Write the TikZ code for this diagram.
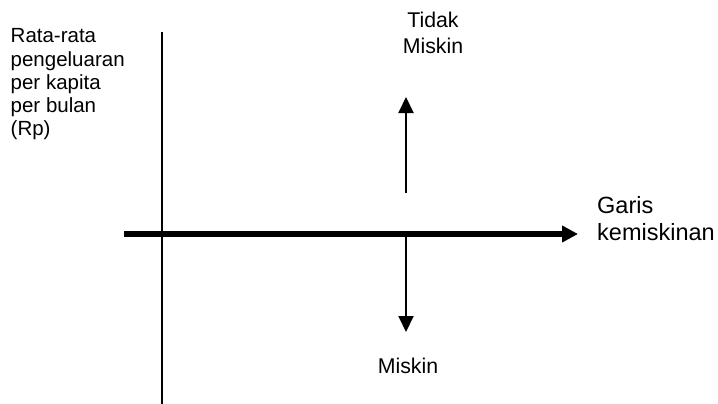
\documentclass[tikz,border=0pt]{standalone}
\usepackage{fontspec}
\setmainfont{Liberation Sans}
\usetikzlibrary{arrows.meta}
\tikzset{
  lbl/.style={inner sep=0pt, align=left},
  axisline/.style={line width=2pt},
  thickarrow/.style={line width=6pt, -{Triangle[length=16pt,width=16pt]}},
  thinarrow/.style={line width=2pt, -{Triangle[length=16pt,width=15pt]}},
}
\begin{document}
\begin{tikzpicture}[x=1pt,y=-1pt]
\useasboundingbox (0,0) rectangle (718,404);
% vertical axis
\coordinate (vtop) at (162,32);
\coordinate (vbot) at (162,404);
\draw[axisline] (vtop) -- (vbot);
% poverty line
\coordinate (hstart) at (124,234);
\coordinate (hend) at (578,234);
\draw[thickarrow] (hstart) -- (hend);
% up / down arrows
\coordinate (upstart) at (406,193);
\coordinate (upend) at (406,97);
\draw[thinarrow] (upstart) -- (upend);
\coordinate (downstart) at (406,236);
\coordinate (downend) at (406,332);
\draw[thinarrow] (downstart) -- (downend);
% labels
\node[lbl, anchor=north west, font=\fontsize{20.5}{23.1}\selectfont] (ylab) at (10.5,28.6)
  {Rata-rata\\pengeluaran\\per kapita\\per bulan\\(Rp)};
\node[lbl, align=center, anchor=north, font=\fontsize{21.3}{25.4}\selectfont] (tidak) at (433,12)
  {Tidak\\Miskin};
\node[lbl, anchor=north west, font=\fontsize{23.5}{27.7}\selectfont] (garis) at (597,196)
  {Garis\\kemiskinan};
\node[lbl, anchor=base, font=\fontsize{21.3}{25.4}\selectfont] (miskin) at (408,373)
  {Miskin};
\end{tikzpicture}
\end{document}
